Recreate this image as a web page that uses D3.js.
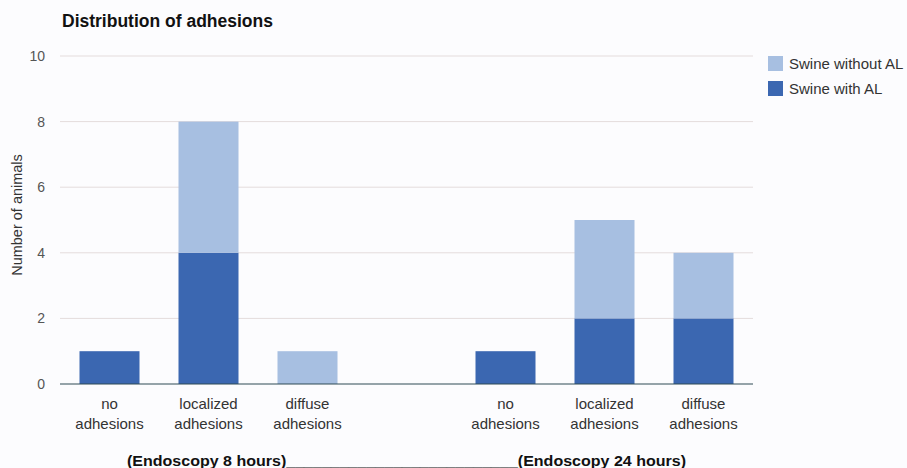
<!DOCTYPE html>
<html>
<head>
<meta charset="utf-8">
<script src="https://cdn.jsdelivr.net/npm/d3@7"></script>
<style>
  html, body { margin: 0; padding: 0; background: #fcfcfe; }
  svg { display: block; font-family: "Liberation Sans", Arial, sans-serif; }
</style>
</head>
<body>
<svg id="chart" width="907" height="468"></svg>
<script>
// Category slots; the blank slot separates the two endoscopy time points
const slots = ["n8", "l8", "d8", "gap", "n24", "l24", "d24"];
const slotLabels = [["no", "adhesions"], ["localized", "adhesions"], ["diffuse", "adhesions"], [], ["no", "adhesions"], ["localized", "adhesions"], ["diffuse", "adhesions"]];
const withAL = [1, 4, 0, 0, 1, 2, 2];
const withoutAL = [0, 4, 1, 0, 0, 3, 2];
const seriesNames = ["Swine with AL", "Swine without AL"];
const yTicks = [0, 2, 4, 6, 8, 10];
const title = "Distribution of adhesions";
const yTitle = "Number of animals";
const footer = "(Endoscopy 8 hours)__________________________(Endoscopy 24 hours)";

const colors = { "Swine with AL": "#3b67b1", "Swine without AL": "#a7bfe1" };

const svg = d3.select("#chart");
const plotL = 60, plotR = 753, plotT = 56, plotB = 384;

const x = d3.scaleBand().domain(slots).range([plotL, plotR]).paddingInner(0.394).paddingOuter(0.197);
const y = d3.scaleLinear().domain([0, 10]).range([plotB, plotT]);

// gridlines
svg.append("g").selectAll("line").data(yTicks.filter(d => d > 0)).join("line")
  .attr("x1", plotL).attr("x2", plotR)
  .attr("y1", d => y(d)).attr("y2", d => y(d))
  .attr("stroke", "#e4dcdc").attr("stroke-width", 1);

// y tick labels
svg.append("g").selectAll("text").data(yTicks).join("text")
  .attr("x", 45).attr("y", d => y(d)).attr("dy", "0.35em")
  .attr("text-anchor", "end").attr("font-size", 14).attr("fill", "#555")
  .text(d => d);

// stacked bars
const rows = slots.map((s, i) => ({ slot: s, "Swine with AL": withAL[i], "Swine without AL": withoutAL[i] }));
const stacked = d3.stack().keys(seriesNames)(rows);
svg.append("g").selectAll("g").data(stacked).join("g")
  .attr("fill", d => colors[d.key])
  .selectAll("rect").data(d => d.filter(p => p[1] - p[0] > 0)).join("rect")
  .attr("x", d => x(d.data.slot))
  .attr("width", x.bandwidth())
  .attr("y", d => y(d[1]))
  .attr("height", d => y(d[0]) - y(d[1]));

// baseline
svg.append("line").attr("x1", plotL).attr("x2", plotR)
  .attr("y1", y(0)).attr("y2", y(0))
  .attr("stroke", "#2f4a55").attr("stroke-width", 1.2);

// category labels
const cat = svg.append("g").selectAll("text").data(slots).join("text")
  .attr("text-anchor", "middle").attr("font-size", 15).attr("fill", "#333")
  .attr("transform", d => `translate(${x(d) + x.bandwidth() / 2},0)`);
cat.each(function(d, i) {
  d3.select(this).selectAll("tspan").data(slotLabels[i]).join("tspan")
    .attr("x", 0).attr("y", (t, j) => 409 + j * 20).text(t => t);
});

// title
svg.append("text").attr("x", 62).attr("y", 27)
  .attr("font-size", 17.5).attr("font-weight", "bold").attr("fill", "#111")
  .text(title);

// y axis title
svg.append("text").attr("transform", `translate(22,215) rotate(-90)`)
  .attr("text-anchor", "middle").attr("font-size", 14.5).attr("fill", "#333")
  .text(yTitle);

// legend
const legendOrder = ["Swine without AL", "Swine with AL"];
const lg = svg.append("g").selectAll("g").data(legendOrder).join("g")
  .attr("transform", (d, i) => `translate(768,${56 + i * 25})`);
lg.append("rect").attr("width", 15).attr("height", 15).attr("fill", d => colors[d]);
lg.append("text").attr("x", 21).attr("y", 7.5).attr("dy", "0.35em")
  .attr("font-size", 15).attr("fill", "#333").text(d => d);

// footer
svg.append("text").attr("x", 127).attr("y", 466)
  .attr("font-size", 15.5).attr("font-weight", "bold").attr("fill", "#111")
  .attr("textLength", 559).attr("lengthAdjust", "spacingAndGlyphs")
  .text(footer);
</script>
</body>
</html>
